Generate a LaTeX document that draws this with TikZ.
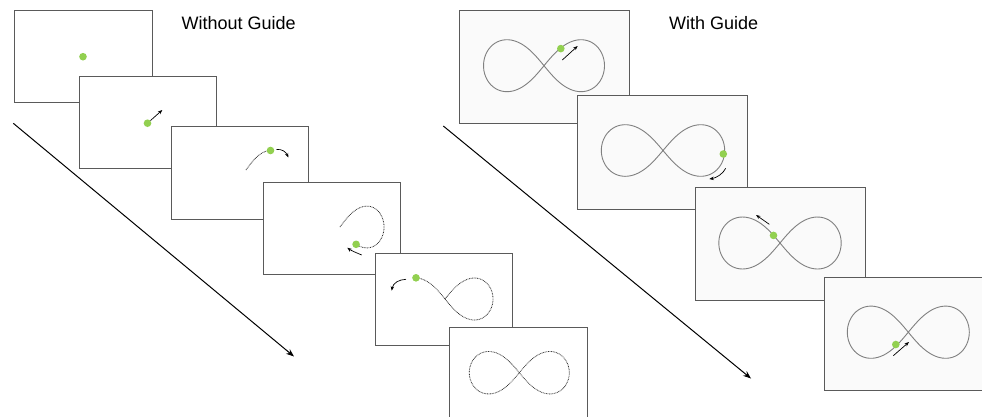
\documentclass[tikz,border=0pt]{standalone}
\usepackage{fontspec}
\setmainfont{Liberation Sans}
\usetikzlibrary{arrows.meta}
\definecolor{dotgreen}{HTML}{92D050}
\definecolor{framegray}{HTML}{5A5A5A}
\definecolor{curvegray}{HTML}{808080}
% figure-eight (lemniscate of Bernoulli, stretched): [style]{cx}{cy}{a}{b}{t0}{t1}
\newcommand\figeight[7][]{\draw[#1] plot[domain=#6:#7, samples=140, smooth, variable=\t]
  ({#2+#4*cos(\t)/(1+sin(\t)*sin(\t))},{#3+#5*sin(\t)*cos(\t)/(1+sin(\t)*sin(\t))});}
\begin{document}
\begin{tikzpicture}[x=1pt,y=-1pt,
  leftframe/.style={draw=framegray, line width=0.9pt, fill=white, minimum width=137.5pt,
    minimum height=92.5pt, inner sep=0pt, outer sep=0pt},
  rightframe/.style={leftframe, fill=black!2, minimum width=170pt, minimum height=113.3pt},
  gdot/.style={circle, fill=dotgreen, minimum size=7.6pt, inner sep=0pt},
  trail/.style={line width=0.8pt, dash pattern=on 0.8pt off 0.8pt, black!80},
  guide/.style={curvegray, line width=0.9pt},
  motion/.style={line width=0.7pt, -{Stealth[length=4.5pt,width=3.5pt]}},
  timeline/.style={line width=1pt, -{Stealth[length=8pt,width=6pt]}},
  title/.style={font=\fontsize{18}{21}\selectfont, anchor=base west, inner sep=0pt}]
\useasboundingbox (0,0) rectangle (982,416);
\clip (0,0) rectangle (982,416);

% titles
\node[title] (t1) at (181.5,29.5) {Without Guide};
\node[title] (t2) at (669,29.8) {With Guide};

% timelines
\coordinate (tl1s) at (13.3,123.3);
\coordinate (tl1e) at (294,356.5);
\coordinate (tl2s) at (443.3,126);
\coordinate (tl2e) at (751,378.5);
\draw[timeline] (tl1s) -- (tl1e);
\draw[timeline] (tl2s) -- (tl2e);

% ---------------- Without Guide ----------------
\node[leftframe] (L1) at (83.2,56.3) {};
\node[gdot] (d1) at (83,56.7) {};

\node[leftframe] (L2) at (147.8,122.5) {};
\node[gdot] (d2) at (147.5,123.2) {};
\coordinate (a2) at (162.3,110);
\draw[motion] (d2) -- (a2);

\node[leftframe] (L3) at (239.8,172.7) {};
\figeight[trail]{246}{170}{40}{55}{-90}{-35.3}
\node[gdot] (d3) at (270.5,150.5) {};
\coordinate (a3s) at (276.5,149.5);
\coordinate (a3e) at (288.3,157.5);
\draw[motion] (a3s) .. controls (282,148.8) and (286,152) .. (a3e);

\node[leftframe] (L4) at (331.7,228.5) {};
\figeight[trail]{340}{227}{44}{59}{-90}{53}
\node[gdot] (d4) at (356.1,244.3) {};
\coordinate (a4s) at (361.7,255);
\coordinate (a4e) at (347.3,247.7);
\draw[motion] (a4s) .. controls (357,253) and (351,250.5) .. (a4e);

\node[leftframe] (L5) at (444,299.3) {};
\figeight[trail]{445}{299}{48}{59.3}{-90}{145}
\node[gdot] (d5) at (416,277.8) {};
\coordinate (a5s) at (406,279.3);
\coordinate (a5e) at (391.7,290.7);
\draw[motion] (a5s) .. controls (399,279.5) and (393,283) .. (a5e);

\node[leftframe] (L6) at (518.5,373.7) {};
\figeight[trail]{519.3}{372.7}{50}{60}{0}{360}

% ---------------- With Guide ----------------
\node[rightframe] (R1) at (544.7,66.7) {};
\figeight[guide]{544}{65.7}{60.5}{73.5}{0}{360}
\node[gdot] (e1) at (560.8,48.6) {};
\coordinate (b1s) at (562.3,60);
\coordinate (b1e) at (577.7,46);
\draw[motion] (b1s) -- (b1e);

\node[rightframe] (R2) at (662.7,152.3) {};
\figeight[guide]{663}{150.5}{61.7}{73}{0}{360}
\node[gdot] (e2) at (723.3,154) {};
\coordinate (b2s) at (725.7,168.3);
\coordinate (b2e) at (709.3,179);
\draw[motion] (b2s) .. controls (723,174) and (716,178) .. (b2e);

\node[rightframe] (R3) at (780.7,244.2) {};
\figeight[guide]{780}{243}{61.2}{73.5}{0}{360}
\node[gdot] (e3) at (773.5,235.4) {};
\coordinate (b3s) at (769.3,224.3);
\coordinate (b3e) at (756,215);
\draw[motion] (b3s) -- (b3e);

\node[rightframe] (R4) at (909,334) {};
\figeight[guide]{908.3}{332.2}{61}{73.8}{0}{360}
\node[gdot] (e4) at (895.8,344.5) {};
\coordinate (b4s) at (893.3,355.7);
\coordinate (b4e) at (909,342);
\draw[motion] (b4s) -- (b4e);
\end{tikzpicture}
\end{document}
